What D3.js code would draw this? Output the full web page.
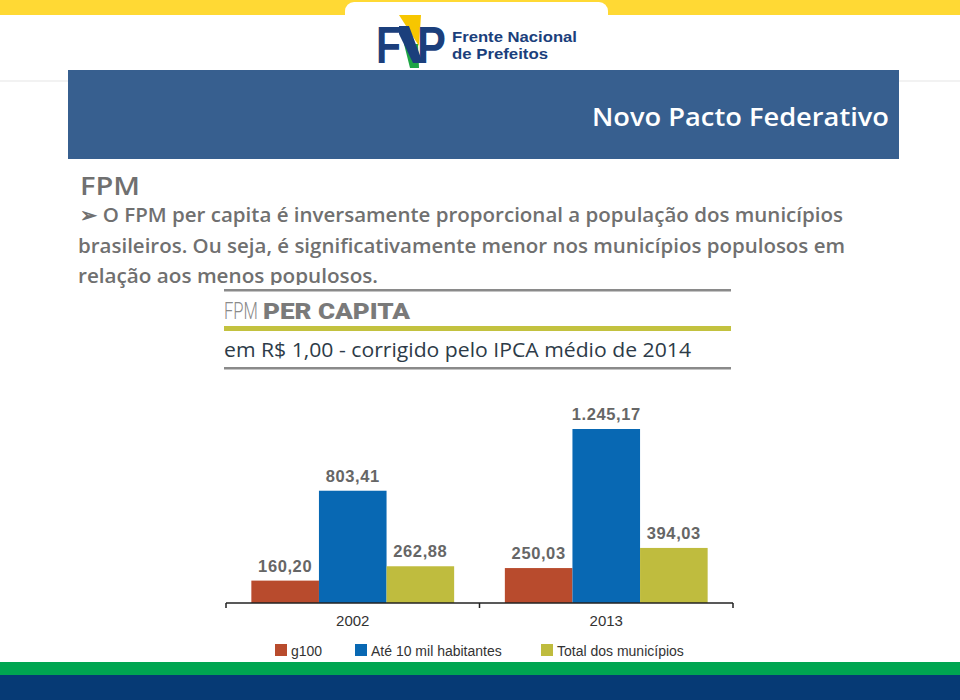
<!DOCTYPE html>
<html><head><meta charset="utf-8">
<script src="https://cdn.jsdelivr.net/npm/d3@7"></script>
<style>body{margin:0;background:#fff}svg{display:block}</style>
</head><body>
<script>
// ---- data ----
const categories = ["2002", "2013"];
const seriesNames = ["g100", "Até 10 mil habitantes", "Total dos municípios"];
const g100 = [160.20, 250.03];
const ate10mil = [803.41, 1245.17];
const totalMun = [262.88, 394.03];
const seriesColors = ["#b84b2d", "#0868b3", "#bfbc3e"];

const W = 960, H = 700;
const svg = d3.select("body").append("svg").attr("width", W).attr("height", H);

// ---- page frame ----
svg.append("rect").attr("x",0).attr("y",0).attr("width",W).attr("height",15).attr("fill","#ffd934");
svg.append("rect").attr("x",345).attr("y",2).attr("width",263).attr("height",40).attr("rx",9).attr("fill","#fff");
svg.append("line").attr("x1",0).attr("x2",W).attr("y1",81).attr("y2",81).attr("stroke","#eeeeee").attr("stroke-width",1.5);

// logo
const navy = "#1b3f7c";
const logo = svg.append("g");
logo.append("polygon").attr("points","399,15 421,15 419,46").attr("fill","#f7c600");
logo.append("polygon").attr("points","404,44 418,44 419,68 410,68").attr("fill","#1ea545");
logo.append("text").attr("x",376).attr("y",63).attr("font-family","Liberation Sans, Arial").attr("font-weight","bold")
  .attr("font-size",51).attr("fill",navy).attr("transform","translate(376,0) scale(0.8,1) translate(-376,0)").text("F");
logo.append("polygon").attr("points","399,26 409,26 421,58 421,63 413,63 399,34").attr("fill",navy);
logo.append("text").attr("x",417).attr("y",63).attr("font-family","Liberation Sans, Arial").attr("font-weight","bold")
  .attr("font-size",51).attr("fill",navy).attr("transform","translate(417,0) scale(0.85,1) translate(-417,0)").text("P");
logo.append("text").attr("x",452).attr("y",42).attr("font-family","Liberation Sans, Arial").attr("font-weight","bold")
  .attr("font-size",15).attr("fill",navy).attr("textLength",125).attr("lengthAdjust","spacingAndGlyphs").text("Frente Nacional");
logo.append("text").attr("x",452).attr("y",59).attr("font-family","Liberation Sans, Arial").attr("font-weight","bold")
  .attr("font-size",15).attr("fill",navy).attr("textLength",96).attr("lengthAdjust","spacingAndGlyphs").text("de Prefeitos");

// header band
svg.append("rect").attr("x",68).attr("y",70).attr("width",831).attr("height",89).attr("fill","#375f8f");
svg.append("text").attr("x",889).attr("y",126).attr("text-anchor","end").attr("font-family","Open Sans, sans-serif")
  .attr("font-weight",600).attr("font-size",26).attr("fill","#fff").attr("textLength",297).attr("lengthAdjust","spacingAndGlyphs")
  .text("Novo Pacto Federativo");

// body text
const txtColor = "#707070";
svg.append("text").attr("x",80).attr("y",195).attr("font-family","Open Sans, sans-serif").attr("font-weight",600)
  .attr("font-size",25).attr("fill",txtColor).attr("textLength",60).attr("lengthAdjust","spacingAndGlyphs").text("FPM");
const lines = [
  {x:80, y:222, w:763, t:"\u27A2 O FPM per capita é inversamente proporcional a população dos municípios"},
  {x:78, y:253, w:767, t:"brasileiros. Ou seja, é significativamente menor nos municípios populosos em"},
  {x:78, y:283, w:300, t:"relação aos menos populosos."}
];
lines.forEach(l => {
  svg.append("text").attr("x",l.x).attr("y",l.y).attr("font-family","Open Sans, sans-serif").attr("font-weight",600)
    .attr("font-size",20).attr("fill",txtColor).attr("textLength",l.w).attr("lengthAdjust","spacingAndGlyphs").text(l.t);
});

// chart picture background
svg.append("rect").attr("x",220).attr("y",285).attr("width",518).attr("height",377).attr("fill","#fff");

// chart heading
svg.append("rect").attr("x",224).attr("y",289).attr("width",507).attr("height",2.5).attr("fill","#8a8a8a");
svg.append("text").attr("x",224).attr("y",319).attr("font-family","Roboto, sans-serif").attr("font-weight",300)
  .attr("font-size",23).attr("fill","#8a8a8a").attr("transform","translate(224,0) scale(0.72,1) translate(-224,0)").text("FPM");
svg.append("text").attr("x",263).attr("y",319).attr("font-family","Roboto, sans-serif").attr("font-weight",900)
  .attr("font-size",22).attr("fill","#7a7a7a").attr("textLength",147).attr("lengthAdjust","spacingAndGlyphs").text("PER CAPITA");
svg.append("rect").attr("x",224).attr("y",326).attr("width",507).attr("height",5).attr("fill","#c3c23f");
svg.append("text").attr("x",224).attr("y",357).attr("font-family","Open Sans, sans-serif")
  .attr("font-size",20).attr("fill","#2d3b48").attr("textLength",467).attr("lengthAdjust","spacingAndGlyphs")
  .text("em R$ 1,00 - corrigido pelo IPCA médio de 2014");
svg.append("rect").attr("x",224).attr("y",367).attr("width",507).attr("height",2.5).attr("fill","#8a8a8a");

// ---- chart ----
const x0 = d3.scaleBand().domain(categories).range([226, 733]).paddingInner(0.2).paddingOuter(0.1);
const x1 = d3.scaleBand().domain(seriesNames).range([0, x0.bandwidth()]).padding(0);
const y = d3.scaleLinear().domain([0, 1245.17]).range([603, 429]);

const seriesVals = [g100, ate10mil, totalMun];
const ptBR = d3.formatLocale({decimal: ",", thousands: ".", grouping: [3], currency: ["R$", ""]});
const fmt = ptBR.format(",.2f");

const cells = [];
categories.forEach((c, i) => seriesNames.forEach((s, j) => cells.push({c, s, j, v: seriesVals[j][i]})));

const gBars = svg.append("g");
gBars.selectAll("rect").data(cells).join("rect")
  .attr("x", d => x0(d.c) + x1(d.s))
  .attr("width", x1.bandwidth())
  .attr("y", d => y(d.v))
  .attr("height", d => y(0) - y(d.v))
  .attr("fill", d => seriesColors[d.j]);

gBars.selectAll("text").data(cells).join("text")
  .attr("x", d => x0(d.c) + x1(d.s) + x1.bandwidth() / 2)
  .attr("y", d => y(d.v) - 9)
  .attr("text-anchor", "middle")
  .attr("font-family", "Liberation Sans, Arial, sans-serif")
  .attr("font-weight", "bold").attr("font-size", 16.5).attr("letter-spacing", 0.6)
  .attr("fill", "#666")
  .text(d => fmt(d.v));

// x axis
const axisG = svg.append("g").attr("transform", `translate(0,${y(0)})`);
axisG.append("line").attr("x1",226).attr("x2",733).attr("stroke","#222").attr("stroke-width",1.5);
const tickXs = [226, x0(categories[1]) - x0.step()*x0.paddingInner()/2, 733];
axisG.selectAll("line.tk").data(tickXs).join("line").attr("class","tk")
  .attr("x1", d => d).attr("x2", d => d).attr("y1", 0).attr("y2", 5).attr("stroke","#222").attr("stroke-width",1.5);
axisG.selectAll("text").data(categories).join("text")
  .attr("x", d => x0(d) + x0.bandwidth() / 2).attr("y", 23)
  .attr("text-anchor", "middle").attr("font-family", "Liberation Sans, Arial, sans-serif")
  .attr("font-size", 15).attr("fill", "#333").text(d => d);

// legend
const legX = [275, 355, 541];
const leg = svg.append("g");
seriesNames.forEach((s, j) => {
  leg.append("rect").attr("x", legX[j]).attr("y", 644).attr("width", 12).attr("height", 12).attr("fill", seriesColors[j]);
  leg.append("text").attr("x", legX[j] + 16).attr("y", 656).attr("font-family", "Liberation Sans Narrow, Liberation Sans, Arial, sans-serif")
    .attr("font-size", 14).attr("fill", "#333").text(s);
});

// bottom bands
svg.append("rect").attr("x",0).attr("y",662).attr("width",W).attr("height",13).attr("fill","#00a551");
svg.append("rect").attr("x",0).attr("y",675).attr("width",W).attr("height",25).attr("fill","#063a75");
</script>
</body></html>
